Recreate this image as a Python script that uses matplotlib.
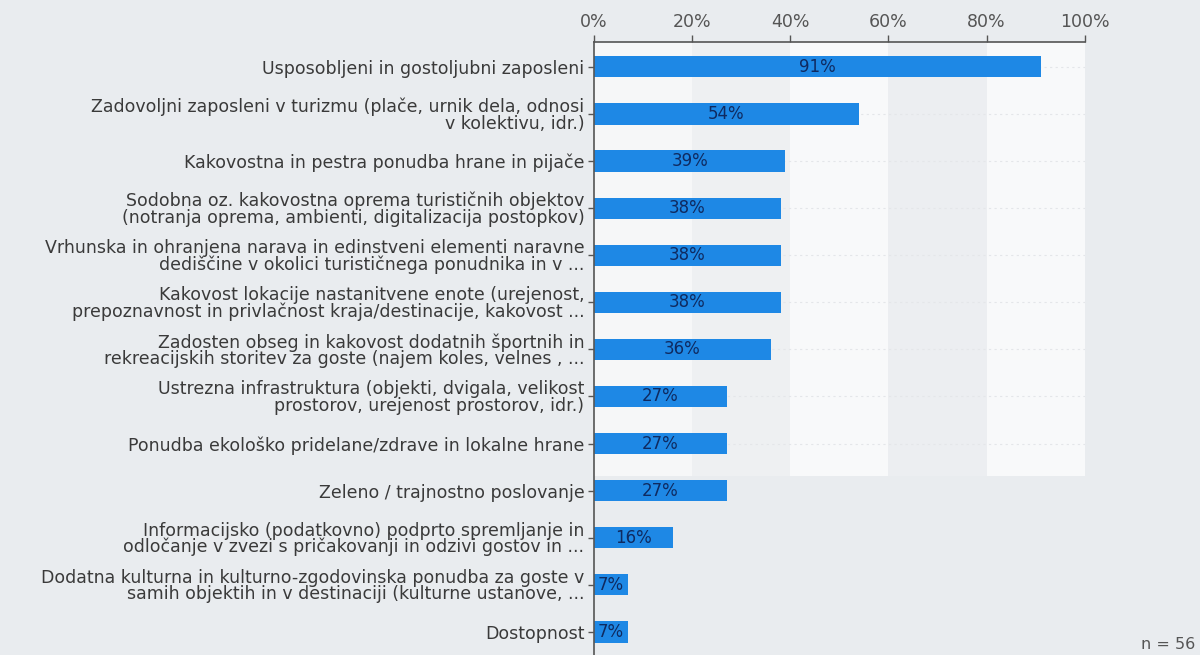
import matplotlib.pyplot as plt
from matplotlib.patches import Rectangle

plt.rcParams['font.family'] = ['DejaVu Sans']

categories = [
    "Usposobljeni in gostoljubni zaposleni",
    "Zadovoljni zaposleni v turizmu (plače, urnik dela, odnosi\nv kolektivu, idr.)",
    "Kakovostna in pestra ponudba hrane in pijače",
    "Sodobna oz. kakovostna oprema turističnih objektov\n(notranja oprema, ambienti, digitalizacija postopkov)",
    "Vrhunska in ohranjena narava in edinstveni elementi naravne\ndediščine v okolici turističnega ponudnika in v ...",
    "Kakovost lokacije nastanitvene enote (urejenost,\nprepoznavnost in privlačnost kraja/destinacije, kakovost ...",
    "Zadosten obseg in kakovost dodatnih športnih in\nrekreacijskih storitev za goste (najem koles, velnes , ...",
    "Ustrezna infrastruktura (objekti, dvigala, velikost\nprostorov, urejenost prostorov, idr.)",
    "Ponudba ekološko pridelane/zdrave in lokalne hrane",
    "Zeleno / trajnostno poslovanje",
    "Informacijsko (podatkovno) podprto spremljanje in\nodločanje v zvezi s pričakovanji in odzivi gostov in ...",
    "Dodatna kulturna in kulturno-zgodovinska ponudba za goste v\nsamih objektih in v destinaciji (kulturne ustanove, ...",
    "Dostopnost",
]
values = [91, 54, 39, 38, 38, 38, 36, 27, 27, 27, 16, 7, 7]
xticks = [0, 20, 40, 60, 80, 100]
n_label = "n = 56"

bg = "#e9ecef"
bar_color = "#1e88e5"
text_color = "#3a3a3a"

fig = plt.figure(figsize=(12, 6.55), dpi=100, facecolor=bg)
ax = fig.add_axes([0.495, 0.0, 0.409, 0.936])
ax.set_facecolor(bg)

ypos = list(range(len(categories)))
ax.set_xlim(0, 100)
ax.set_ylim(12.49, -0.53)

# light column bands in the upper part of the plot area
band_bottom = 8.68
for x0, col in [(0, "#f6f7f8"), (20, "#eef0f2"), (40, "#f8f9fa"), (60, "#eceef1"), (80, "#f8f9fa")]:
    ax.add_patch(Rectangle((x0, -0.53), 20, band_bottom + 0.53, facecolor=col,
                           edgecolor="none", zorder=0))

for y in ypos[:9]:
    ax.plot([0, 100], [y, y], color="#e4e6e9", lw=0.8, ls=(0, (2, 3)), zorder=0.5)

ax.barh(ypos, values, height=0.45, color=bar_color, zorder=2)
for y, v in zip(ypos, values):
    ax.text(v / 2, y, f"{v}%", ha="center", va="center", fontsize=12,
            color="#0f2a60", zorder=3)

ax.xaxis.tick_top()
ax.set_xticks(xticks)
ax.set_xticklabels([f"{t}%" for t in xticks], fontsize=12.5, color="#555555")
ax.tick_params(axis="x", direction="out", length=5, width=1, color="#555555", pad=3)
ax.set_yticks(ypos)
ax.set_yticklabels(categories, fontsize=12.5, color=text_color, linespacing=0.88)
ax.tick_params(axis="y", direction="out", length=4, width=1, color="#555555", pad=3)

for s in ["right", "bottom"]:
    ax.spines[s].set_visible(False)
for s in ["top", "left"]:
    ax.spines[s].set_color("#555555")
    ax.spines[s].set_linewidth(1.2)

fig.text(0.996, 0.005, n_label, ha="right", va="bottom", fontsize=11.5, color="#555555")

fig.savefig("out.png", dpi=100, facecolor=bg)
